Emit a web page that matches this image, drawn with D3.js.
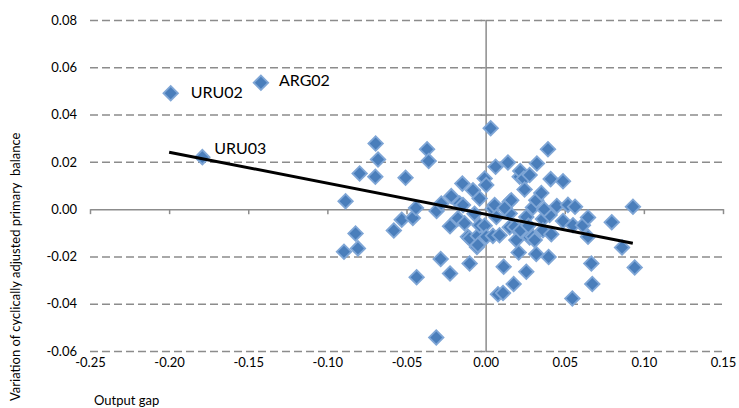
<!DOCTYPE html>
<html>
<head>
<meta charset="utf-8">
<script src="https://cdn.jsdelivr.net/npm/d3@7"></script>
<style>
  body { margin: 0; background: #fff; }
  text { font-family: Lato, "Open Sans", sans-serif; fill: #000; }
</style>
</head>
<body>
<svg id="chart" width="739" height="408"></svg>
<script>
// ===== Data =====
const outputGap = [
  -0.199, -0.142, -0.179, -0.0885, -0.0895, -0.0822, -0.0807, -0.0796, -0.0697, -0.0695,
  -0.068, -0.058, -0.053, -0.0506, -0.046, -0.044, -0.0436, -0.037, -0.036, -0.031,
  -0.0312, -0.0284, -0.028, -0.0225, -0.0225, -0.0217, -0.0175, -0.0164, -0.0147, -0.0143,
  -0.0133, -0.0112, -0.0101, -0.0101, -0.008, -0.0055, -0.0049, -0.0049, -0.0038, -0.0038,
  -0.0006, -0.0006, 0.0004, 0.0004, 0.0032, 0.0046, 0.0046, 0.0057, 0.0063, 0.0068,
  0.0078, 0.0088, 0.011, 0.0114, 0.0141, 0.0152, 0.0152, 0.0152, 0.0162, 0.0177,
  0.0183, 0.0194, 0.0209, 0.0215, 0.0219, 0.0242, 0.0246, 0.0257, 0.0257, 0.0278,
  0.0278, 0.0299, 0.0299, 0.031, 0.032, 0.032, 0.0324, 0.0352, 0.0362, 0.0362,
  0.0394, 0.0398, 0.0404, 0.0411, 0.0415, 0.045, 0.0489, 0.0489, 0.052, 0.0548,
  0.0552, 0.0565, 0.0615, 0.0647, 0.0647, 0.0668, 0.0674, 0.0797, 0.0862, 0.0931,
  0.0942, 0.022, 0.012, -0.007, 0.037, 0.027
];
const capbChange = [
  0.049, 0.0535, 0.022, 0.0033, -0.018, -0.0103, -0.0166, 0.0151, 0.0137, 0.0278,
  0.021, -0.009, -0.0045, 0.0133, -0.0037, 0.0005, -0.0288, 0.0253, 0.0204, -0.0008,
  -0.0543, -0.0211, 0.0024, -0.0272, -0.0072, 0.0055, -0.0039, 0.0024, 0.0108, 0.0017,
  -0.006, -0.0117, -0.023, -0.0124, 0.008, -0.016, -0.0113, -0.0152, 0.0045, -0.0068,
  0.013, -0.007, 0.0102, -0.0117, 0.0342, 0.0003, -0.0113, 0.0017, 0.0179, -0.0033,
  -0.036, -0.011, -0.0355, -0.0244, 0.0197, 0.0031, -0.0018, -0.0077, 0.0038, -0.0317,
  -0.0075, -0.0131, -0.0183, 0.0137, 0.0161, 0.013, 0.0083, -0.0033, -0.0265, 0.0144,
  -0.012, 0.0007, -0.0117, -0.0131, 0.0038, -0.019, 0.0193, 0.0068, -0.0042, -0.0089,
  0.0253, -0.0202, -0.0025, 0.0127, -0.0106, 0.0013, 0.0118, -0.005, 0.0018, -0.0378,
  -0.0068, 0.001, -0.0068, -0.0035, -0.0117, -0.023, -0.0317, -0.0055, -0.0162, 0.001,
  -0.0247, -0.009, 0.0005, -0.002, 0.0, -0.007
];
const pointLabels = ["URU02", "ARG02", "URU03"]; // first three points
const trendX = [-0.20, 0.093];
const trendY = [0.0241, -0.0144];
const xTicks = [-0.25, -0.20, -0.15, -0.10, -0.05, 0.00, 0.05, 0.10, 0.15];
const yTicks = [-0.06, -0.04, -0.02, 0.00, 0.02, 0.04, 0.06, 0.08];

// ===== Setup =====
const svg = d3.select("#chart");
const plotLeft = 90, plotRight = 723, plotTop = 20, plotBottom = 351;

const x = d3.scaleLinear().domain([-0.25, 0.15]).range([plotLeft, plotRight]);
const y = d3.scaleLinear().domain([-0.06, 0.08]).range([plotBottom, plotTop]);
const fmt = d => d.toFixed(2);

// Gridlines (dashed), zero line handled by axis
const grid = svg.append("g")
  .attr("transform", `translate(${plotLeft},0)`)
  .call(d3.axisLeft(y).tickValues(yTicks.filter(d => d !== 0)).tickSize(-(plotRight - plotLeft)).tickFormat(""));
grid.select(".domain").remove();
grid.selectAll("line")
  .attr("stroke", "#8c8c8c")
  .attr("stroke-width", 1.5)
  .attr("stroke-dasharray", "8,4");

// Y tick labels
const yLab = svg.append("g")
  .attr("transform", `translate(${plotLeft - 13},0)`)
  .call(d3.axisLeft(y).tickValues(yTicks).tickSize(0).tickPadding(0).tickFormat(fmt));
yLab.select(".domain").remove();
yLab.selectAll("text").attr("font-size", 13).attr("font-family", "Lato, sans-serif").attr("fill", "#000");

// X tick labels
const xLab = svg.append("g")
  .attr("transform", `translate(0,${plotBottom + 7})`)
  .call(d3.axisBottom(x).tickValues(xTicks).tickSize(0).tickPadding(0).tickFormat(fmt));
xLab.select(".domain").remove();
xLab.selectAll("text").attr("font-size", 13).attr("font-family", "Lato, sans-serif").attr("fill", "#000");

// Horizontal axis at y = 0
const xAxis = svg.append("g")
  .attr("transform", `translate(0,${y(0)})`)
  .call(d3.axisBottom(x).tickValues(xTicks).tickSize(5).tickSizeOuter(0).tickFormat(""));
xAxis.selectAll("path, line").attr("stroke", "#8c8c8c").attr("stroke-width", 1.5);

// Vertical axis at x = 0
const yAxis = svg.append("g")
  .attr("transform", `translate(${x(0)},0)`)
  .call(d3.axisLeft(y).tickValues(yTicks).tickSize(5).tickSizeOuter(0).tickFormat(""));
yAxis.selectAll("path, line").attr("stroke", "#8c8c8c").attr("stroke-width", 1.5);

// ===== Points =====
const points = outputGap.map((v, i) => ({ x: v, y: capbChange[i] }));
const diamond = d3.symbol().type(d3.symbolSquare).size(105);

svg.append("g").selectAll("path")
  .data(points)
  .join("path")
  .attr("d", diamond)
  .attr("transform", d => `translate(${x(d.x)},${y(d.y)}) rotate(45)`)
  .attr("fill", "#4a7ebb")
  .attr("stroke", "#7fa6d6")
  .attr("stroke-width", 1.8);

// Labels
const labelOffset = [[20, 4.5], [18, 3.5], [12, -3.5]];
svg.append("g").selectAll("text")
  .data(pointLabels)
  .join("text")
  .attr("x", (d, i) => x(points[i].x) + labelOffset[i][0])
  .attr("y", (d, i) => y(points[i].y) + labelOffset[i][1])
  .attr("font-size", 16)
  .text(d => d);

// ===== Trend line =====
svg.append("line")
  .attr("x1", x(trendX[0])).attr("y1", y(trendY[0]))
  .attr("x2", x(trendX[1])).attr("y2", y(trendY[1]))
  .attr("stroke", "#000")
  .attr("stroke-width", 3);

// ===== Axis titles =====
svg.append("text")
  .attr("transform", "translate(20,401) rotate(-90)")
  .attr("font-size", 13)
  .style("white-space", "pre")
  .text("Variation of cyclically adjusted primary  balance");

svg.append("text")
  .attr("x", 94)
  .attr("y", 405)
  .attr("font-size", 13)
  .text("Output gap");
</script>
</body>
</html>
